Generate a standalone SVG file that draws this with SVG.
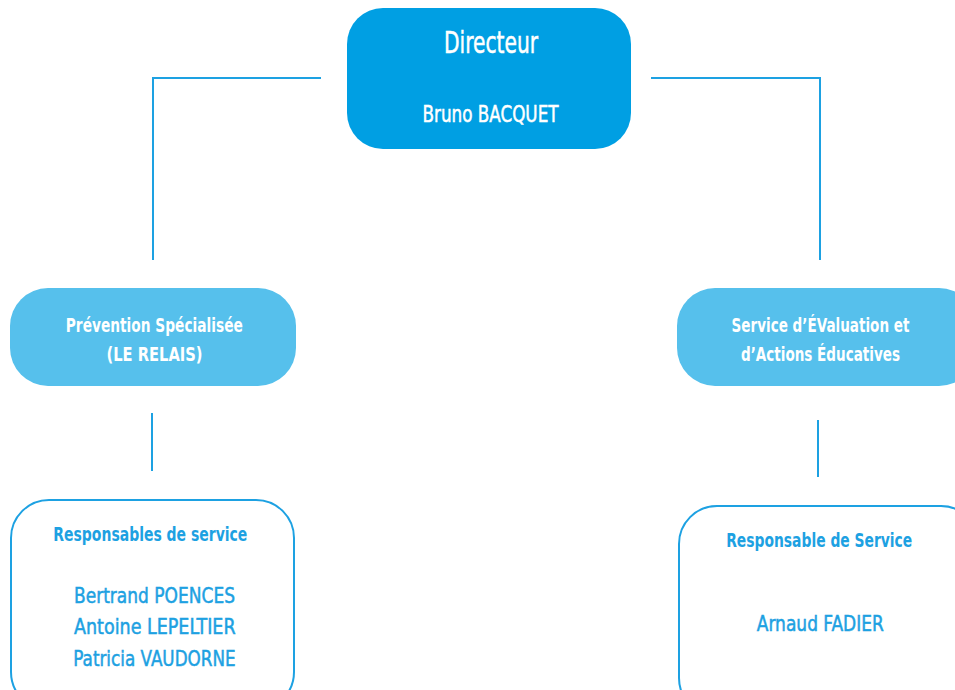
<svg xmlns="http://www.w3.org/2000/svg" width="955" height="690" viewBox="0 0 955 690">
<style>
text{font-family:"DejaVu Sans Condensed","DejaVu Sans","Liberation Sans",sans-serif;font-stretch:condensed;text-anchor:middle}
.w{fill:#ffffff}
.b{fill:#1da1e2}
.bold{font-weight:bold}
.med{stroke-width:0.5}
.w.med{stroke:#ffffff}
.b.med{stroke:#1da1e2}
.conn{stroke:#1da1e2;stroke-width:2;fill:none}
</style>
<rect width="955" height="690" fill="#ffffff"/>
<g id="connectors">
<path class="conn" d="M321 78H153V260"/>
<path class="conn" d="M651 78H820V260"/>
<path class="conn" d="M152 413V471"/>
<path class="conn" d="M818 420V477"/>
</g>
<g id="directeur">
<rect x="347" y="8" width="284" height="141" rx="36" fill="#009fe3"/>
<text class="w med" x="491" y="52.5" font-size="31" textLength="94" lengthAdjust="spacingAndGlyphs">Directeur</text>
<text class="w med" x="490.5" y="121.5" font-size="23" textLength="136" lengthAdjust="spacingAndGlyphs">Bruno BACQUET</text>
</g>
<g id="prevention">
<rect x="10" y="288" width="286" height="98" rx="38" fill="#56c0ec"/>
<text class="w bold" x="154.3" y="331.5" font-size="19" textLength="177" lengthAdjust="spacingAndGlyphs">Prévention Spécialisée</text>
<text class="w bold" x="154.5" y="360.5" font-size="19" textLength="96" lengthAdjust="spacingAndGlyphs">(LE RELAIS)</text>
</g>
<g id="service-evaluation">
<rect x="677" y="288" width="300" height="98" rx="38" fill="#56c0ec"/>
<text class="w bold" x="820.5" y="331.5" font-size="19" textLength="178" lengthAdjust="spacingAndGlyphs">Service d’ÉValuation et</text>
<text class="w bold" x="820.5" y="360.5" font-size="19" textLength="159" lengthAdjust="spacingAndGlyphs">d’Actions Éducatives</text>
</g>
<g id="responsables-prevention">
<rect x="11" y="500" width="283" height="210" rx="38" fill="#ffffff" stroke="#1da1e2" stroke-width="2"/>
<text class="b bold" x="150.3" y="541" font-size="19" textLength="194" lengthAdjust="spacingAndGlyphs">Responsables de service</text>
<text class="b med" x="154.5" y="602.7" font-size="22" textLength="161" lengthAdjust="spacingAndGlyphs">Bertrand POENCES</text>
<text class="b med" x="154.8" y="634" font-size="22" textLength="161.5" lengthAdjust="spacingAndGlyphs">Antoine LEPELTIER</text>
<text class="b med" x="154.5" y="666" font-size="22" textLength="162.4" lengthAdjust="spacingAndGlyphs">Patricia VAUDORNE</text>
</g>
<g id="responsable-evaluation">
<rect x="679" y="506" width="300" height="210" rx="38" fill="#ffffff" stroke="#1da1e2" stroke-width="2"/>
<text class="b bold" x="819.2" y="546.7" font-size="19" textLength="186" lengthAdjust="spacingAndGlyphs">Responsable de Service</text>
<text class="b med" x="820.3" y="630.7" font-size="22" textLength="127" lengthAdjust="spacingAndGlyphs">Arnaud FADIER</text>
</g>
</svg>
